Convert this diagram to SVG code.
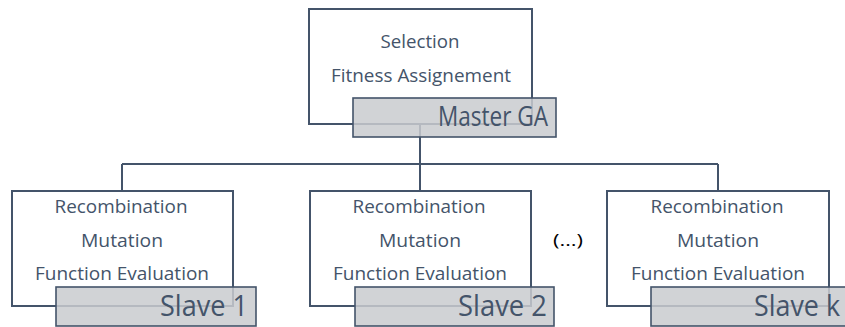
<svg xmlns="http://www.w3.org/2000/svg" width="845" height="327" viewBox="0 0 845 327">
  <style>
    .box { fill: #ffffff; stroke: #44546A; stroke-width: 2; }
    .tag { fill: #C9CBCF; fill-opacity: 0.85; stroke: #44546A; stroke-width: 1.6; }
    .txt { font-family: "Open Sans", "Liberation Sans", sans-serif; font-size: 19px; fill: #44546A; text-anchor: middle; }
    .big { font-family: "Open Sans", "Liberation Sans", sans-serif; fill: #44546A; }
    .wire { fill: none; stroke: #44546A; stroke-width: 2; }
  </style>
  <rect width="845" height="327" fill="#ffffff"/>

  <!-- master node body -->
  <g id="master">
    <rect class="box" x="309" y="9" width="223" height="115"/>
    <text class="txt" x="420" y="48" textLength="79" lengthAdjust="spacingAndGlyphs">Selection</text>
    <text class="txt" x="421" y="82" textLength="180" lengthAdjust="spacingAndGlyphs">Fitness Assignement</text>
  </g>

  <g id="slave1">
    <rect class="box" x="12" y="191" width="221" height="115"/>
    <text class="txt" x="121" y="213" textLength="133" lengthAdjust="spacingAndGlyphs">Recombination</text>
    <text class="txt" x="122" y="247" textLength="82" lengthAdjust="spacingAndGlyphs">Mutation</text>
    <text class="txt" x="122" y="280" textLength="174" lengthAdjust="spacingAndGlyphs">Function Evaluation</text>
  </g>

  <g id="slave2">
    <rect class="box" x="310" y="191" width="221" height="115"/>
    <text class="txt" x="419" y="213" textLength="133" lengthAdjust="spacingAndGlyphs">Recombination</text>
    <text class="txt" x="420" y="247" textLength="82" lengthAdjust="spacingAndGlyphs">Mutation</text>
    <text class="txt" x="420" y="280" textLength="174" lengthAdjust="spacingAndGlyphs">Function Evaluation</text>
  </g>

  <g id="slavek">
    <rect class="box" x="607" y="191" width="222" height="115"/>
    <text class="txt" x="717" y="213" textLength="133" lengthAdjust="spacingAndGlyphs">Recombination</text>
    <text class="txt" x="718" y="247" textLength="82" lengthAdjust="spacingAndGlyphs">Mutation</text>
    <text class="txt" x="718" y="280" textLength="174" lengthAdjust="spacingAndGlyphs">Function Evaluation</text>
  </g>

  <!-- tree connectors -->
  <g id="connectors">
    <path class="wire" d="M420,124 V164 M122,164 H718 M122,164 V191 M420,164 V191 M718,164 V191"/>
  </g>

  <!-- translucent name tags drawn over the bodies -->
  <g id="master-tag">
    <rect class="tag" x="353" y="98" width="203" height="39"/>
    <text class="big" x="438" y="126" font-size="27" textLength="110" lengthAdjust="spacingAndGlyphs">Master GA</text>
  </g>
  <g id="slave1-tag">
    <rect class="tag" x="56" y="287" width="200" height="39"/>
    <text class="big" x="160" y="316" font-size="30" textLength="88" lengthAdjust="spacingAndGlyphs">Slave 1</text>
  </g>
  <g id="slave2-tag">
    <rect class="tag" x="355" y="287" width="199" height="39"/>
    <text class="big" x="458" y="316" font-size="30" textLength="89" lengthAdjust="spacingAndGlyphs">Slave 2</text>
  </g>
  <g id="slavek-tag">
    <rect class="tag" x="651" y="287" width="200" height="39"/>
    <text class="big" x="754" y="316" font-size="30" textLength="86" lengthAdjust="spacingAndGlyphs">Slave k</text>
  </g>

  <g id="ellipsis">
    <text x="553" y="246" font-family="Open Sans, Liberation Sans, sans-serif" font-size="17" fill="#000000" textLength="30" lengthAdjust="spacingAndGlyphs">(…)</text>
  </g>
</svg>
